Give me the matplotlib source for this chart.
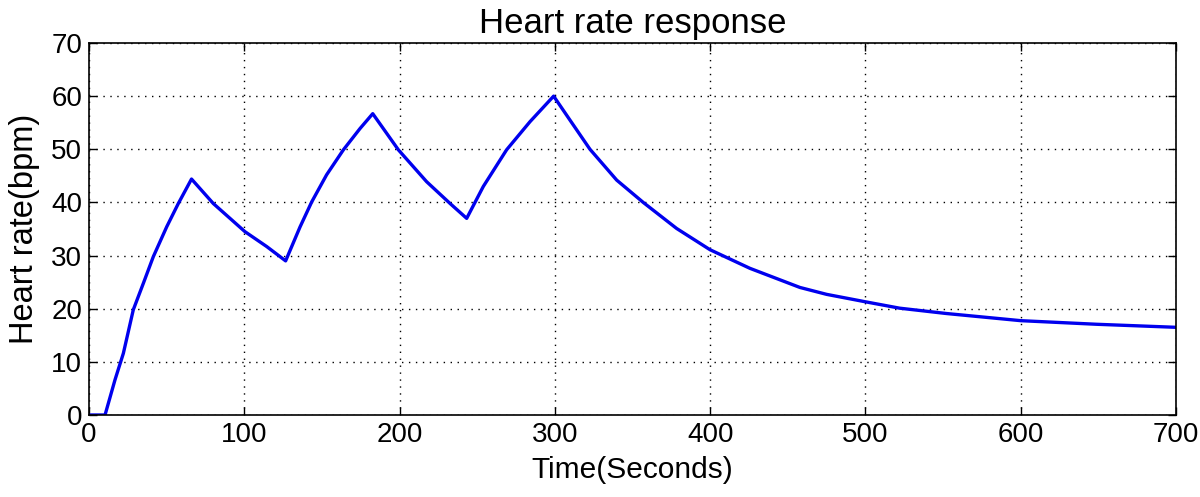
import matplotlib
matplotlib.use('Agg')
import matplotlib.pyplot as plt

# points (seconds, bpm)
time_s = [0, 10.3, 16.7, 22.1, 28.5, 35.0, 41.4, 50.0, 57.5, 66.0,
          80.0, 100.4, 114.4, 126.6,
          135.9, 143.4, 153.0, 163.8, 174.5, 182.7,
          199.2, 217.4, 232.5, 243.2,
          253.9, 268.9, 284.0, 299.2,
          309.7, 322.6, 339.8, 356.9, 378.4, 399.9, 425.6, 457.8, 475,
          500, 522, 552, 600, 649, 700]
heart_rate = [0, 0, 6.6, 11.6, 19.8, 24.8, 29.8, 35.4, 39.8, 44.4,
              39.8, 34.5, 31.7, 29.0,
              35.4, 40.1, 45.2, 49.9, 53.9, 56.7,
              49.9, 43.9, 39.8, 37.0,
              43.0, 49.9, 55.2, 60.0,
              55.5, 50.0, 44.2, 40.0, 35.1, 31.1, 27.6, 24.0, 22.7,
              21.3, 20.1, 19.1, 17.75, 17.07, 16.5]

x_ticks = [0, 100, 200, 300, 400, 500, 600, 700]
y_ticks = [0, 10, 20, 30, 40, 50, 60, 70]

plt.rcParams['font.family'] = ['Liberation Sans', 'DejaVu Sans']

fig = plt.figure(figsize=(12, 4.97), dpi=100)
ax = fig.add_axes([0.0742, 0.165, 0.9058, 0.7485])

ax.plot(time_s, heart_rate, color='#0000ee', linewidth=2.4)

ax.set_xlim(0, 700)
ax.set_ylim(0, 70)
ax.set_xticks(x_ticks)
ax.set_yticks(y_ticks)
ax.tick_params(direction='in', length=6, width=1, labelsize=20,
               top=True, right=True, pad=5)
ax.grid(True, color='black', linestyle=(0, (1, 4)), linewidth=1)
for s in ax.spines.values():
    s.set_linewidth(1.2)

ax.set_title('Heart rate response', fontsize=25, pad=7)
ax.set_xlabel('Time(Seconds)', fontsize=21.5, labelpad=6)
ax.set_ylabel('Heart rate(bpm)', fontsize=23.5, labelpad=8)

fig.savefig('out.png', dpi=100)
